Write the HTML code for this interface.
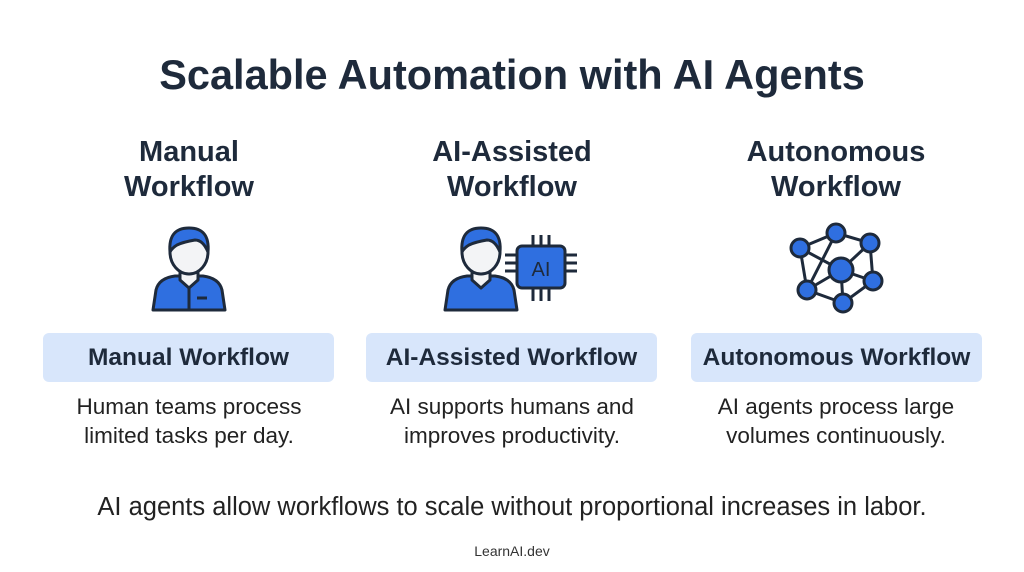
<!DOCTYPE html>
<html><head><meta charset="utf-8"><style>
body{margin:0;width:1024px;height:572px;background:#fff;position:relative;overflow:hidden;font-family:"Liberation Sans",sans-serif;color:#1f2937}
.t{position:absolute;left:0;width:1024px;text-align:center;white-space:nowrap}
.c{position:absolute;text-align:center;white-space:nowrap;width:320px}
.h{font-weight:bold;font-size:29px;line-height:35px;color:#1e2a3b}
.box{position:absolute;top:333px;height:49px;width:291px;background:#d8e6fb;border-radius:6px;font-weight:bold;font-size:24.5px;line-height:49px;text-align:center;color:#1e2a3b}
.d{font-size:22.5px;line-height:29px;color:#222}
</style></head><body>
<div class="t" style="top:51px;font-size:41.5px;font-weight:bold;color:#1e2a3b">Scalable Automation with AI Agents</div>
<div class="c h" style="left:29px;top:135px">Manual<br>Workflow</div>
<div class="c h" style="left:352px;top:135px">AI-Assisted<br>Workflow</div>
<div class="c h" style="left:676px;top:135px">Autonomous<br>Workflow</div>
<svg style="position:absolute;left:0;top:0" width="1024" height="572">
<defs>
<g id="p" stroke="#1e2a3b" stroke-width="3" stroke-linejoin="round">
<path d="M-36,60 L-33,40 Q-30,28 -14,26 L14,26 Q30,28 33,40 L36,60 Z" fill="#2f6fe0"/>
<path d="M-9,18 L-9,30 L0,38 L9,30 L9,18" fill="#f3f4f6"/>
<ellipse cx="0" cy="2" rx="19" ry="22" fill="#f3f4f6"/>
<path d="M-19,2 Q-21,-22 0,-22 Q21,-22 19,2 Q14,-10 6,-10 Q-6,-8 -12,-5 Q-17,-2 -19,2Z" fill="#2f6fe0"/>
</g>
</defs>
<use href="#p" x="189" y="250"/>
<path d="M189,288 L189,310 M197,298 h10" stroke="#1e2a3b" stroke-width="3"/>
<use href="#p" x="481" y="250"/>
<g stroke="#1e2a3b" stroke-width="3">
<path d="M533,235v14M541,235v14M549,235v14M533,287v14M541,287v14M549,287v14M505,255h12M505,263h12M505,271h12M565,255h12M565,263h12M565,271h12"/>
<rect x="517" y="246" width="48" height="42" rx="5" fill="#2f6fe0"/>
</g>
<text x="541" y="276" text-anchor="middle" font-family="Liberation Sans" font-size="20" fill="#1e2a3b">AI</text>
<g stroke="#1e2a3b" stroke-width="3">
<path fill="none" d="M800,248L836,233L870,243L873,281L843,303L807,290L800,248 M800,248L841,270L873,281 M836,233L807,290 M870,243L841,270 M807,290L841,270L843,303"/>
<g fill="#2f6fe0"><circle cx="800" cy="248" r="9"/><circle cx="836" cy="233" r="9"/><circle cx="870" cy="243" r="9"/><circle cx="841" cy="270" r="12"/><circle cx="873" cy="281" r="9"/><circle cx="807" cy="290" r="9"/><circle cx="843" cy="303" r="9"/></g>
</g>
</svg>
<div class="box" style="left:43px">Manual Workflow</div>
<div class="box" style="left:366px">AI-Assisted Workflow</div>
<div class="box" style="left:691px">Autonomous Workflow</div>
<div class="c d" style="left:29px;top:392px">Human teams process<br>limited tasks per day.</div>
<div class="c d" style="left:352px;top:392px">AI supports humans and<br>improves productivity.</div>
<div class="c d" style="left:676px;top:392px">AI agents process large<br>volumes continuously.</div>
<div class="t" style="top:493px;font-size:25.5px;color:#222">AI agents allow workflows to scale without proportional increases in labor.</div>
<div class="t" style="top:543px;font-size:14px;color:#333">LearnAI.dev</div>
</body></html>
